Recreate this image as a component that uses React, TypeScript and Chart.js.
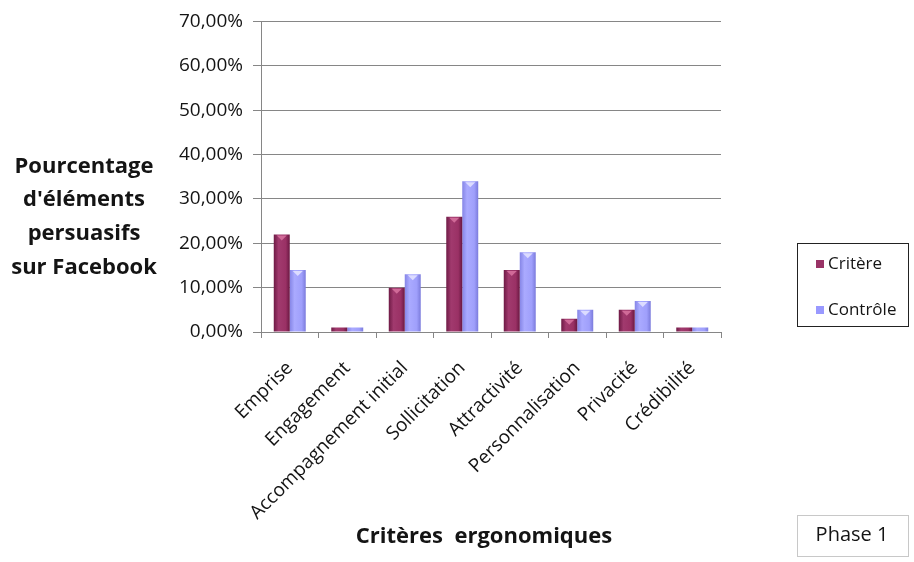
import React, { useEffect, useRef } from "react";
import { Chart, registerables } from "chart.js";

Chart.register(...registerables);

const categories = [
  "Emprise",
  "Engagement",
  "Accompagnement initial",
  "Sollicitation",
  "Attractivité",
  "Personnalisation",
  "Privacité",
  "Crédibilité",
];
const critereValues = [0.22, 0.01, 0.10, 0.26, 0.14, 0.03, 0.05, 0.01];
const controleValues = [0.14, 0.01, 0.13, 0.34, 0.18, 0.05, 0.07, 0.01];
const seriesNames = ["Critère", "Contrôle"];
const yTitleLines = ["Pourcentage", "d'éléments", "persuasifs", "sur Facebook"];
const xTitle = "Critères  ergonomiques";
const phaseLabel = "Phase 1";

const FONT = "'Open Sans', 'Lato', sans-serif";
const W = 914;
const H = 562;
const AREA = { left: 261, right: 721, top: 20, bottom: 332 };
const TEXT = "#141414";

const palettes = [
  { stops: ["#6e1a45", "#a13a6e", "#9a3165", "#6a1842"], tip: "#d06a98", legend: "#993366" },
  { stops: ["#8585e6", "#aaaaff", "#9f9ffb", "#7b7bdc"], tip: "#dcdcff", legend: "#9999ff" },
];

function barGradient(ctx: any, dsIndex: number) {
  const chart = ctx.chart;
  const xs = chart.scales.x;
  const i = ctx.dataIndex;
  if (!xs || i === undefined || !isFinite(xs.getPixelForValue(i))) return palettes[dsIndex].stops[1];
  const center = xs.getPixelForValue(i);
  const catW = (xs.right - xs.left) / categories.length;
  const bw = (catW * 0.556) / 2;
  const left = dsIndex === 0 ? center - bw : center;
  const g = chart.ctx.createLinearGradient(left, 0, left + bw, 0);
  const s = palettes[dsIndex].stops;
  g.addColorStop(0, s[0]);
  g.addColorStop(0.3, s[1]);
  g.addColorStop(0.75, s[2]);
  g.addColorStop(1, s[3]);
  return g;
}

const decorPlugin = {
  id: "decor",
  afterDatasetsDraw(chart: any) {
    const ctx = chart.ctx;
    ctx.save();
    chart.data.datasets.forEach((_: any, di: number) => {
      const meta = chart.getDatasetMeta(di);
      meta.data.forEach((bar: any) => {
        const h = bar.base - bar.y;
        if (h < 6) return;
        const half = bar.width / 2;
        ctx.fillStyle = palettes[di].tip;
        ctx.beginPath();
        ctx.moveTo(bar.x - half + 3, bar.y + 1);
        ctx.lineTo(bar.x + half - 3, bar.y + 1);
        ctx.lineTo(bar.x, bar.y + 6);
        ctx.closePath();
        ctx.fill();
      });
    });
    ctx.restore();
  },
  afterDraw(chart: any) {
    const ctx = chart.ctx;
    ctx.save();
    ctx.fillStyle = TEXT;
    // y title (horizontal, multi-line)
    ctx.font = `bold 22px ${FONT}`;
    ctx.textAlign = "center";
    ctx.textBaseline = "middle";
    const yCenters = [167, 200, 234, 268];
    yTitleLines.forEach((t, i) => ctx.fillText(t, 84, yCenters[i]));
    // x title
    ctx.font = `bold 22px ${FONT}`;
    ctx.fillText(xTitle, 484, 537);

    // legend box
    ctx.strokeStyle = "#222";
    ctx.lineWidth = 1;
    ctx.strokeRect(797.5, 243.5, 111, 83);
    ctx.font = `17px ${FONT}`;
    ctx.textAlign = "left";
    const legY = [264, 310];
    seriesNames.forEach((n, i) => {
      ctx.fillStyle = palettes[i].legend;
      ctx.fillRect(816, legY[i] - 4, 8, 8);
      ctx.fillStyle = TEXT;
      ctx.fillText(n, 828, legY[i]);
    });

    // phase box
    ctx.strokeStyle = "#c8c8c8";
    ctx.strokeRect(797.5, 515.5, 111, 41);
    ctx.fillStyle = TEXT;
    ctx.textAlign = "center";
    ctx.font = `20px ${FONT}`;
    ctx.fillText(phaseLabel, 852, 535);
    ctx.restore();
  },
};

export default function App() {
  const ref = useRef<HTMLCanvasElement | null>(null);
  useEffect(() => {
    if (!ref.current) return;
    const chart = new Chart(ref.current, {
      type: "bar",
      data: {
        labels: categories,
        datasets: [
          {
            label: seriesNames[0],
            data: critereValues,
            backgroundColor: (c: any) => barGradient(c, 0),
            borderWidth: 0,
          },
          {
            label: seriesNames[1],
            data: controleValues,
            backgroundColor: (c: any) => barGradient(c, 1),
            borderWidth: 0,
          },
        ],
      },
      options: {
        animation: false,
        responsive: false,
        events: [],
        layout: { padding: { left: 0, right: W - AREA.right, top: AREA.top, bottom: 0 } },
        datasets: { bar: { categoryPercentage: 0.556, barPercentage: 1 } },
        plugins: { legend: { display: false }, tooltip: { enabled: false }, title: { display: false } },
        scales: {
          x: {
            offset: true,
            grid: { offset: true, drawOnChartArea: false, tickLength: 6, color: "#868686" },
            border: { color: "#868686" },
            ticks: {
              minRotation: 45,
              maxRotation: 45,
              autoSkip: false,
              padding: 19,
              color: TEXT,
              font: { family: FONT, size: 19 },
            },
            afterFit: (s: any) => {
              s.height = H - AREA.bottom;
            },
          },
          y: {
            min: 0,
            max: 0.7,
            ticks: {
              stepSize: 0.1,
              padding: 10,
              color: TEXT,
              font: { family: FONT, size: 19 },
              callback: (v: any) => (Number(v) * 100).toFixed(2).replace(".", ",") + "%",
            },
            grid: { color: "#868686", tickLength: 8 },
            border: { color: "#868686" },
            afterFit: (s: any) => {
              s.width = AREA.left;
            },
          },
        },
      },
      plugins: [decorPlugin],
    });
    return () => chart.destroy();
  }, []);
  return (
    <div style={{ position: "fixed", left: 0, top: 0, width: W, height: H, background: "#fff" }}>
      <canvas ref={ref} width={W} height={H} style={{ width: W, height: H, display: "block" }} />
    </div>
  );
}
